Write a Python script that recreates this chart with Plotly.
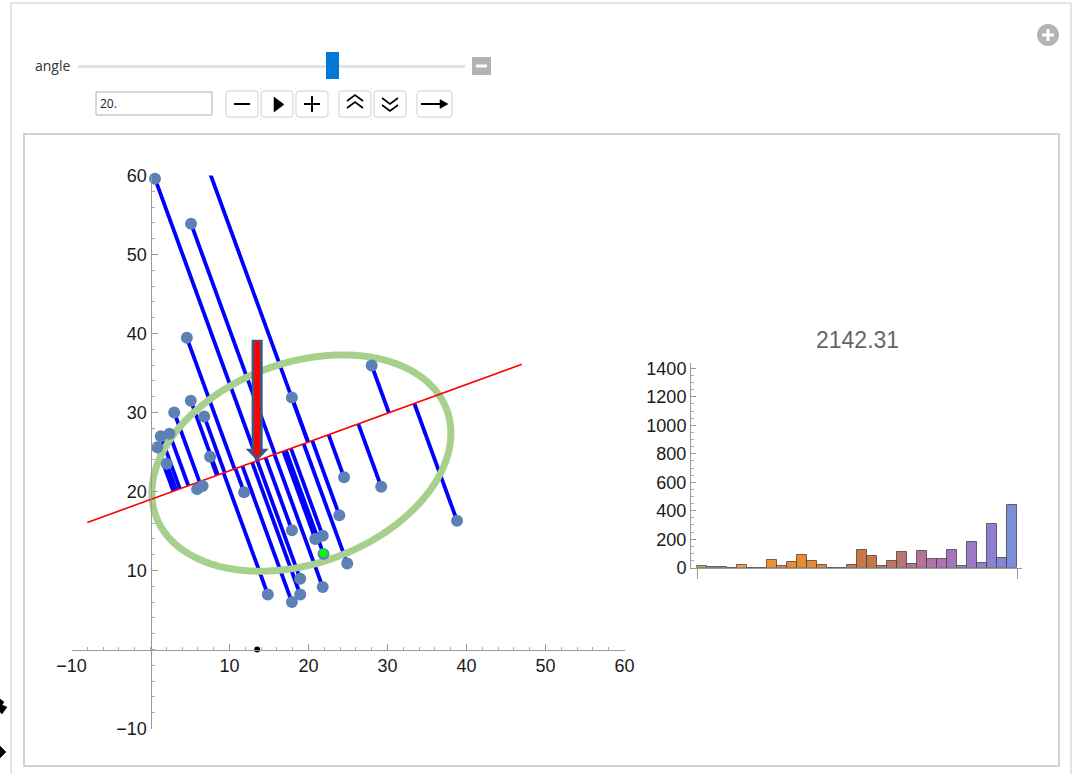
import numpy as np
import plotly.graph_objects as go

W, H = 1076, 774

# ---- data -------------------------------------------------------------
pts_x = [0.57, 5.13, 4.6, 17.9, 28.0, 5.1, 3.0, 6.8, 1.3, 2.4, 0.86, 2.05,
         7.54, 5.9, 6.6, 11.85, 24.5, 29.2, 23.9, 38.8, 17.9, 20.85, 21.8,
         21.9, 24.9, 18.95, 21.8, 14.85, 18.95, 17.9, 4.0]
pts_y = [59.6, 53.9, 39.45, 31.9, 35.95, 31.5, 30.0, 29.5, 27.0, 27.3, 25.6,
         23.5, 24.4, 20.3, 20.7, 19.9, 21.8, 20.6, 17.0, 16.3, 15.1, 14.0,
         14.4, 12.1, 10.9, 8.95, 7.9, 6.96, 6.96, 6.0, 70.0]
highlight_pt = (21.9, 12.2)
centroid = (13.5, 23.9)
angle_deg = 20.0
line_x_ends = [-8.0, 47.0]
arrow_top_y = 39.2
ellipse_center = (19.1, 23.6)
ellipse_axes = (19.6, 12.7)

x_ticks = [-10, 10, 20, 30, 40, 50, 60]
y_ticks = [-10, 10, 20, 30, 40, 50, 60]
minor_ticks = [v for v in range(-10, 61, 2)]

hist_values = [14, 3, 2, 0, 21, 0, 0, 52, 9, 37, 91, 45, 19, 1, 0, 21,
               122, 84, 9, 47, 108, 28, 117, 59, 59, 124, 9, 178, 30, 309, 70, 442]
hist_title = "2142.31"
hist_y_ticks = [0, 200, 400, 600, 800, 1000, 1200, 1400]

angle_value = "20."

# ---- geometry helpers ---------------------------------------------------
def pxx(x):
    return x / W


def pyy(y):
    return 1 - y / H


th = np.radians(angle_deg)
ux, uy = np.cos(th), np.sin(th)
cx, cy = centroid
px_arr = np.array(pts_x)
py_arr = np.array(pts_y)
t = (px_arr - cx) * ux + (py_arr - cy) * uy
qx = cx + t * ux
qy = cy + t * uy

seg_x, seg_y = [], []
for a, b, c, d in zip(px_arr, py_arr, qx, qy):
    seg_x += [a, c, None]
    seg_y += [b, d, None]

lx = np.array(line_x_ends)
ly = cy + np.tan(th) * (lx - cx)

s = np.linspace(0, 2 * np.pi, 400)
ea, eb = ellipse_axes
ex = ellipse_center[0] + ea * np.cos(s) * ux - eb * np.sin(s) * uy
ey = ellipse_center[1] + ea * np.cos(s) * uy + eb * np.sin(s) * ux

# ---- figure -------------------------------------------------------------
fig = go.Figure()

fig.add_trace(go.Scatter(x=seg_x, y=seg_y, mode="lines",
                         line=dict(color="#0000ff", width=3.8),
                         hoverinfo="skip", showlegend=False))
fig.add_trace(go.Scatter(x=ex, y=ey, mode="lines",
                         line=dict(color="#a8d08d", width=7, simplify=False),
                         hoverinfo="skip", showlegend=False))
fig.add_trace(go.Scatter(x=lx, y=ly, mode="lines",
                         line=dict(color="#ff0000", width=1.6),
                         hoverinfo="skip", showlegend=False))
fig.add_trace(go.Scatter(x=pts_x, y=pts_y, mode="markers",
                         marker=dict(color="#5e81b5", size=12),
                         cliponaxis=False, showlegend=False))
fig.add_trace(go.Scatter(x=[highlight_pt[0]], y=[highlight_pt[1]], mode="markers",
                         marker=dict(color="#00ff00", size=8),
                         showlegend=False))
fig.add_trace(go.Scatter(x=[cx], y=[0], mode="markers",
                         marker=dict(color="black", size=6),
                         cliponaxis=False, showlegend=False))

# histogram colours run from tan through orange and mauve to blue
anchors = [(0, (214, 168, 96)), (4, (244, 160, 76)), (8, (238, 140, 50)),
           (12, (232, 134, 52)), (16, (200, 120, 64)), (18, (196, 118, 84)),
           (20, (186, 118, 112)), (22, (178, 116, 150)), (24, (172, 116, 178)),
           (26, (160, 120, 196)), (28, (148, 124, 206)), (30, (134, 132, 214)),
           (31, (122, 142, 218))]


def bar_colour(i):
    for (i0, c0), (i1, c1) in zip(anchors[:-1], anchors[1:]):
        if i0 <= i <= i1:
            f = (i - i0) / (i1 - i0)
            r, g, b = [round(c0[k] + f * (c1[k] - c0[k])) for k in range(3)]
            return f"rgb({r},{g},{b})"
    return "rgb(122,142,218)"


bins = list(range(len(hist_values)))
fig.add_trace(go.Bar(x=bins, y=hist_values, width=1,
                     marker=dict(color=[bar_colour(i) for i in bins],
                                 line=dict(color="rgba(60,60,60,0.75)", width=1)),
                     xaxis="x2", yaxis="y2", showlegend=False))

# ---- arrow (data coordinates) -------------------------------------------
tip = cy
hw_o, hh_o, hl = 0.7, 1.46, 1.5
outer = (f"M {cx-hw_o},{arrow_top_y} L {cx+hw_o},{arrow_top_y} L {cx+hw_o},{tip+hl} "
         f"L {cx+hh_o},{tip+hl} L {cx},{tip} L {cx-hh_o},{tip+hl} L {cx-hw_o},{tip+hl} Z")
hw_i, hh_i = 0.36, 0.62
inner = (f"M {cx-hw_i},{arrow_top_y-0.25} L {cx+hw_i},{arrow_top_y-0.25} L {cx+hw_i},{tip+1.25} "
         f"L {cx+hh_i},{tip+1.25} L {cx},{tip+0.45} L {cx-hh_i},{tip+1.25} L {cx-hw_i},{tip+1.25} Z")
shapes = [
    dict(type="path", xref="x", yref="y", path=outer,
         fillcolor="#3b5884", line=dict(width=0), layer="above"),
    dict(type="path", xref="x", yref="y", path=inner,
         fillcolor="#ff0000", line=dict(width=0), layer="above"),
]

# ---- control panel furniture (paper coordinates) ------------------------
def rect(x0, y0, x1, y1, fill="white", line="#cfcfcf", lw=1):
    return dict(type="rect", xref="paper", yref="paper",
                x0=pxx(x0), x1=pxx(x1), y0=pyy(y1), y1=pyy(y0),
                fillcolor=fill, line=dict(color=line, width=lw), layer="below")


def rounded(x0, y0, x1, y1, r=3, fill="white", line="#d0d0d0", lw=1):
    d = (f"M {pxx(x0+r)},{pyy(y0)} L {pxx(x1-r)},{pyy(y0)} "
         f"Q {pxx(x1)},{pyy(y0)} {pxx(x1)},{pyy(y0+r)} L {pxx(x1)},{pyy(y1-r)} "
         f"Q {pxx(x1)},{pyy(y1)} {pxx(x1-r)},{pyy(y1)} L {pxx(x0+r)},{pyy(y1)} "
         f"Q {pxx(x0)},{pyy(y1)} {pxx(x0)},{pyy(y1-r)} L {pxx(x0)},{pyy(y0+r)} "
         f"Q {pxx(x0)},{pyy(y0)} {pxx(x0+r)},{pyy(y0)} Z")
    return dict(type="path", xref="paper", yref="paper", path=d,
                fillcolor=fill, line=dict(color=line, width=lw), layer="below")


def seg(pts, color="black", lw=2, fill=None, close=False):
    d = "M " + " L ".join(f"{pxx(a)},{pyy(b)}" for a, b in pts)
    if close:
        d += " Z"
    sh = dict(type="path", xref="paper", yref="paper", path=d,
              line=dict(color=color, width=lw), layer="above")
    if fill:
        sh["fillcolor"] = fill
    return sh


# outer frame and inner panel
shapes.append(seg([(11, 780), (11, 3), (1071, 3), (1071, 780)], color="#cccccc", lw=1))
shapes.append(rect(24, 134, 1059, 766, fill="white", line="#d2d2d2", lw=2))

# slider
shapes.append(rect(78, 65, 465, 68, fill="#e2e2e2", line="#e2e2e2", lw=0))
shapes.append(rect(326, 52, 339, 79, fill="#0078d7", line="#0078d7", lw=0))
shapes.append(rect(472, 57, 491, 75, fill="#b3b3b3", line="#b3b3b3", lw=0))
shapes.append(seg([(476, 66), (487, 66)], color="white", lw=3))

# value field
shapes.append(rect(96, 92, 212, 115, fill="white", line="#b0b0b0", lw=1))

# buttons
for x0, x1 in [(226, 258), (261, 293), (296, 328), (339, 371), (374, 406), (417, 452)]:
    shapes.append(rounded(x0, 91, x1, 117))
shapes.append(seg([(234, 104), (250, 104)], lw=2))
shapes.append(seg([(274, 97), (284, 104.5), (274, 112)], lw=0.5, fill="black", close=True))
shapes.append(seg([(304, 104), (320, 104)], lw=2))
shapes.append(seg([(312, 96), (312, 112)], lw=2))
shapes.append(seg([(347, 101), (355, 95), (363, 101)], lw=1.6))
shapes.append(seg([(347, 108), (355, 102), (363, 108)], lw=1.6))
shapes.append(seg([(382, 98), (390, 104), (398, 98)], lw=1.6))
shapes.append(seg([(382, 105), (390, 111), (398, 105)], lw=1.6))
shapes.append(seg([(421, 104), (445, 104)], lw=2))
shapes.append(seg([(440, 99.5), (448, 104), (440, 108.5)], lw=0.5, fill="black", close=True))

# expand button
shapes.append(dict(type="circle", xref="paper", yref="paper",
                   x0=pxx(1037), x1=pxx(1059), y0=pyy(46), y1=pyy(24),
                   fillcolor="#b3b3b3", line=dict(width=0), layer="above"))
shapes.append(seg([(1042, 35), (1054, 35)], color="white", lw=3))
shapes.append(seg([(1048, 29), (1048, 41)], color="white", lw=3))

# window handles at the left edge
shapes.append(seg([(0, 699), (4, 702), (2, 705), (7, 707), (2, 714), (0, 712)],
                  lw=0.5, fill="black", close=True))
shapes.append(seg([(0, 746), (6, 752), (0, 758)], lw=0.5, fill="black", close=True))

annotations = [
    dict(text="angle", xref="paper", yref="paper", x=pxx(33), y=pyy(65),
         xanchor="left", yanchor="middle", showarrow=False,
         font=dict(family="Open Sans", size=14, color="#333333")),
    dict(text=angle_value, xref="paper", yref="paper", x=pxx(98), y=pyy(104),
         xanchor="left", yanchor="middle", showarrow=False,
         font=dict(family="Open Sans", size=12, color="#222222")),
    dict(text=hist_title, xref="paper", yref="paper", x=pxx(857), y=pyy(340),
         xanchor="center", yanchor="middle", showarrow=False,
         font=dict(family="Liberation Sans", size=23, color="#666666")),
]

# ---- axes ---------------------------------------------------------------
k = 7.9
x0pix, y0pix = 150.5, 649.5
tick_font = dict(family="Liberation Sans", size=18, color="#1a1a1a")


def lbl(v):
    return f"\u2212{abs(v)}" if v < 0 else str(v)


fig.update_layout(
    width=W, height=H,
    margin=dict(l=0, r=0, t=0, b=0, pad=0, autoexpand=False),
    paper_bgcolor="white", plot_bgcolor="rgba(0,0,0,0)",
    showlegend=False, bargap=0,
    shapes=shapes, annotations=annotations,
    xaxis=dict(domain=[(x0pix - 10 * k) / W, (x0pix + 60 * k) / W], range=[-10, 60],
               anchor="free", position=pyy(y0pix), automargin=False,
               showline=True, linecolor="#999999", linewidth=1,
               ticks="inside", ticklen=6, tickcolor="#999999",
               tickmode="array", tickvals=x_ticks, ticktext=[lbl(v) for v in x_ticks],
               minor=dict(tickmode="array", tickvals=minor_ticks, ticks="inside",
                          ticklen=3, tickcolor="#aaaaaa"),
               tickfont=tick_font, showgrid=False, zeroline=False),
    yaxis=dict(domain=[pyy(y0pix + 10 * k), pyy(y0pix - 60 * k)], range=[-10, 60],
               anchor="free", position=x0pix / W, automargin=False,
               showline=True, linecolor="#999999", linewidth=1,
               ticks="inside", ticklen=6, tickcolor="#999999",
               tickmode="array", tickvals=y_ticks, ticktext=[lbl(v) for v in y_ticks],
               minor=dict(tickmode="array", tickvals=minor_ticks, ticks="inside",
                          ticklen=3, tickcolor="#aaaaaa"),
               tickfont=tick_font, showgrid=False, zeroline=False),
    xaxis2=dict(domain=[691 / W, 1022 / W], range=[-1.1, 32.0], anchor="y2",
                automargin=False,
                showline=True, linecolor="#999999", linewidth=1,
                ticks="outside", ticklen=10, tickcolor="#999999",
                tickmode="array", tickvals=[-0.5, len(hist_values) - 0.5],
                showticklabels=False, showgrid=False, zeroline=False),
    yaxis2=dict(domain=[pyy(567.7), pyy(363)], range=[0, (567.7 - 363) / 0.1424],
                anchor="x2", automargin=False,
                showline=True, linecolor="#999999", linewidth=1,
                ticks="inside", ticklen=5, tickcolor="#999999",
                tickmode="array", tickvals=hist_y_ticks,
                minor=dict(dtick=50, ticks="inside", ticklen=2.5, tickcolor="#aaaaaa"),
                tickfont=tick_font, showgrid=False, zeroline=False),
)

fig.write_html(
    "out.html",
    config={"displayModeBar": False},
    post_script="document.body.style.margin='0';document.body.style.overflow='hidden';",
)
